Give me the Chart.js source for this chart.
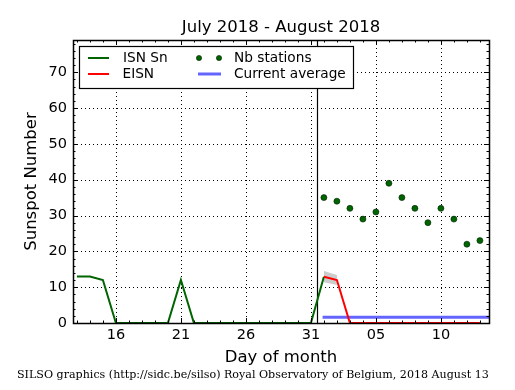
<!DOCTYPE html>
<html><head><meta charset="utf-8">
<script src="https://cdn.jsdelivr.net/npm/chart.js@4/dist/chart.umd.min.js"></script>
<style>html,body{margin:0;padding:0;background:#fff;}canvas{display:block;}</style>
</head><body>
<canvas id="c" width="515" height="390"></canvas>
<script>
// ---- data (day index: July d -> d, August d -> 31 + d) ----
const isnDays = [13,14,15,16,17,18,19,20,21,22,23,24,25,26,27,28,29,30,31,32];
const isnSn   = [13,13,12,0,0,0,0,0,12,0,0,0,0,0,0,0,0,0,0,12.9];
const eisnDays = [32,33,34,35,36,37,38,39,40,41,42,43,44];
const eisn     = [12.9,12,0,0,0,0,0,0,0,0,0,0,0];
const bandDays  = [32,33];
const bandUpper = [14.5,13.4];
const bandLower = [11.4,10.6];
const nbDays     = [32,33,34,35,36,37,38,39,40,41,42,43,44];
const nbStations = [35,34,32,29,31,39,35,32,28,32,29,22,23];
const avgDays  = [31.9,44.7];
const avgValue = [1.6,1.6];
const monthBoundary = 31.5;
const xTickValues = [16,21,26,31,36,41];
const xTickLabels = ['16','21','26','31','05','10'];
const yTickValues = [0,10,20,30,40,50,60,70];
const titleText = 'July 2018 - August 2018';
const xTitle = 'Day of month';
const yTitle = 'Sunspot Number';
const footerText = 'SILSO graphics (http://sidc.be/silso) Royal Observatory of Belgium, 2018 August 13';
const legendItems = ['ISN Sn','EISN','Nb stations','Current average'];

const pts = (xs, ys) => xs.map((x,i)=>({x:x, y:ys[i]}));
const SANS = 'DejaVu Sans';
Chart.defaults.font.family = SANS;
Chart.defaults.color = '#000';

const GREEN = '#006400', RED = '#ff0000', BLUE = '#6464ff';

const decor = {
  id: 'decor',
  beforeDatasetsDraw(chart) {
    const {ctx, chartArea: a, scales: {x, y}} = chart;
    ctx.save();
    ctx.strokeStyle = '#000';
    ctx.lineWidth = 1;
    ctx.setLineDash([1,3]);
    xTickValues.forEach(v => {
      const px = Math.round(x.getPixelForValue(v)) + 0.5;
      ctx.beginPath(); ctx.moveTo(px, a.top); ctx.lineTo(px, a.bottom); ctx.stroke();
    });
    yTickValues.forEach(v => {
      if (v === 0) return;
      const py = Math.round(y.getPixelForValue(v)) + 0.5;
      ctx.beginPath(); ctx.moveTo(a.left, py); ctx.lineTo(a.right, py); ctx.stroke();
    });
    ctx.setLineDash([]);
    const bx = Math.round(x.getPixelForValue(monthBoundary)) + 0.5;
    ctx.lineWidth = 1.2;
    ctx.beginPath(); ctx.moveTo(bx, a.top); ctx.lineTo(bx, a.bottom); ctx.stroke();
    ctx.restore();
  },
  afterDatasetsDraw(chart) {
    const {ctx, chartArea: a, scales: {x, y}} = chart;
    ctx.save();
    ctx.strokeStyle = '#000';
    ctx.lineWidth = 1;
    // ticks (inward) on four sides
    const majL = 5, minL = 2.5;
    for (let d = Math.ceil(x.min); d <= x.max; d++) {
      const px = Math.round(x.getPixelForValue(d)) + 0.5;
      const L = xTickValues.includes(d) ? majL : minL;
      ctx.beginPath();
      ctx.moveTo(px, a.bottom); ctx.lineTo(px, a.bottom - L);
      ctx.moveTo(px, a.top); ctx.lineTo(px, a.top + L);
      ctx.stroke();
    }
    for (let v = 0; v <= y.max; v += 2) {
      const py = Math.round(y.getPixelForValue(v)) + 0.5;
      const L = yTickValues.includes(v) ? majL : minL;
      ctx.beginPath();
      ctx.moveTo(a.left, py); ctx.lineTo(a.left + L, py);
      ctx.moveTo(a.right, py); ctx.lineTo(a.right - L, py);
      ctx.stroke();
    }
    // frame
    ctx.lineWidth = 1.5;
    ctx.strokeRect(Math.round(a.left) + 0.5, Math.round(a.top) + 0.5, Math.round(a.right - a.left), Math.round(a.bottom - a.top));
    ctx.restore();
  },
  afterDraw(chart) {
    const {ctx, chartArea: a} = chart;
    ctx.save();
    ctx.fillStyle = '#000';
    // title
    ctx.font = '16.5px "' + SANS + '"';
    ctx.textAlign = 'center'; ctx.textBaseline = 'alphabetic';
    ctx.fillText(titleText, (a.left + a.right) / 2, 32);
    // x title
    ctx.fillText(xTitle, (a.left + a.right) / 2, 362);
    // y title
    ctx.save();
    ctx.translate(36, (a.top + a.bottom) / 2);
    ctx.rotate(-Math.PI / 2);
    ctx.fillText(yTitle, 0, 0);
    ctx.restore();
    // footer
    ctx.font = '100px "DejaVu Serif"';
    const w = ctx.measureText(footerText).width;
    const fs = 100 * 472 / w;
    ctx.font = fs.toFixed(2) + 'px "DejaVu Serif"';
    ctx.textAlign = 'left';
    ctx.fillText(footerText, 17, 378);
    // legend
    const lx = 79.5, ly = 46.5, lw = 274, lh = 42;
    ctx.fillStyle = '#fff';
    ctx.fillRect(lx, ly, lw, lh);
    ctx.strokeStyle = '#000'; ctx.lineWidth = 1.2;
    ctx.strokeRect(lx, ly, lw, lh);
    const r1 = 58, r2 = 74;
    ctx.lineWidth = 2;
    ctx.strokeStyle = GREEN; ctx.beginPath(); ctx.moveTo(88, r1); ctx.lineTo(109, r1); ctx.stroke();
    ctx.strokeStyle = RED; ctx.beginPath(); ctx.moveTo(88, r2); ctx.lineTo(109, r2); ctx.stroke();
    ctx.lineWidth = 3;
    ctx.strokeStyle = BLUE; ctx.beginPath(); ctx.moveTo(198, r2); ctx.lineTo(221, r2); ctx.stroke();
    [199, 219].forEach(cx => {
      ctx.beginPath(); ctx.arc(cx, r1, 2.6, 0, Math.PI * 2);
      ctx.fillStyle = GREEN; ctx.fill();
      ctx.lineWidth = 0.6; ctx.strokeStyle = '#002000'; ctx.stroke();
    });
    ctx.fillStyle = '#000';
    ctx.font = '13.7px "' + SANS + '"';
    ctx.textAlign = 'left'; ctx.textBaseline = 'middle';
    ctx.fillText(legendItems[0], 123, r1);
    ctx.fillText(legendItems[1], 122.5, r2);
    ctx.fillText(legendItems[2], 234, r1);
    ctx.fillText(legendItems[3], 234, r2);
    ctx.restore();
  }
};

new Chart(document.getElementById('c'), {
  type: 'line',
  data: {
    datasets: [
      { label: 'Nb stations', data: pts(nbDays, nbStations), showLine: false,
        pointRadius: 3, pointBackgroundColor: GREEN, pointBorderColor: '#002000', pointBorderWidth: 0.6 },
      { label: 'EISN', data: pts(eisnDays, eisn), borderColor: RED, borderWidth: 2, pointRadius: 0, tension: 0, fill: false },
      { label: 'ISN Sn', data: pts(isnDays, isnSn), borderColor: GREEN, borderWidth: 2, pointRadius: 0, tension: 0, fill: false },
      { label: 'Current average', data: pts(avgDays, avgValue), borderColor: BLUE, borderWidth: 3, pointRadius: 0, fill: false },
      { label: 'upper', data: pts(bandDays, bandUpper), borderWidth: 0, borderColor: 'rgba(0,0,0,0)', pointRadius: 0,
        backgroundColor: 'rgba(170,170,170,0.6)', fill: '+1' },
      { label: 'lower', data: pts(bandDays, bandLower), borderWidth: 0, borderColor: 'rgba(0,0,0,0)', pointRadius: 0, fill: false }
    ]
  },
  options: {
    responsive: false,
    animation: false,
    events: [],
    layout: { padding: { top: 40, right: 26, left: 0, bottom: 0 } },
    plugins: { legend: { display: false }, tooltip: { enabled: false }, title: { display: false } },
    scales: {
      x: {
        type: 'linear', min: 12.7, max: 44.7,
        grid: { display: false, drawTicks: false },
        border: { display: false },
        afterBuildTicks: s => { s.ticks = xTickValues.map(v => ({ value: v })); },
        afterFit: s => { s.height = 67; },
        ticks: { padding: 4, font: { size: 14.5 }, color: '#000', maxRotation: 0,
          callback: v => xTickLabels[xTickValues.indexOf(v)] }
      },
      y: {
        min: 0, max: 79,
        grid: { display: false, drawTicks: false },
        border: { display: false },
        afterBuildTicks: s => { s.ticks = yTickValues.map(v => ({ value: v })); },
        afterFit: s => { s.width = 73; },
        ticks: { padding: 6, font: { size: 14.5 }, color: '#000', callback: v => String(v) }
      }
    }
  },
  plugins: [decor]
});
</script>
</body></html>
